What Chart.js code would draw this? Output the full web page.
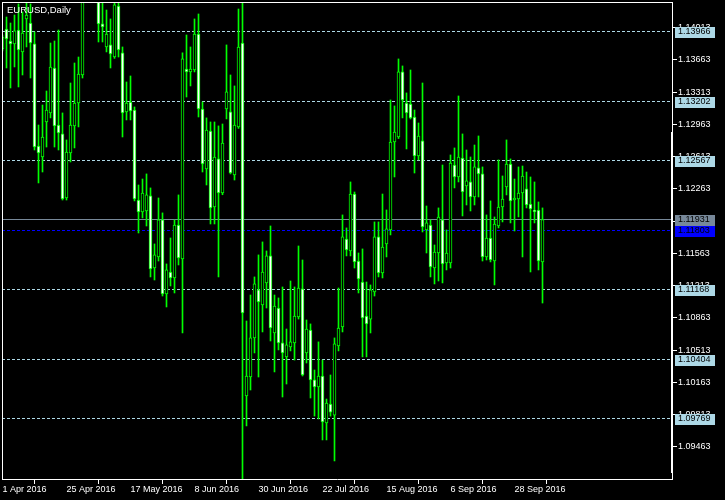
<!DOCTYPE html>
<html>
<head>
<meta charset="utf-8">
<script src="https://cdn.jsdelivr.net/npm/chart.js@4/dist/chart.umd.min.js"></script>
<style>
html,body{margin:0;padding:0;background:#000;overflow:hidden}
#wrap{width:725px;height:500px;position:relative}
</style>
</head>
<body>
<div id="wrap"><canvas id="c" width="725" height="500"></canvas></div>
<script>
const symbolTitle = 'EURUSD,Daily';

const dates = [
'1 Apr 2016','4 Apr 2016','5 Apr 2016','6 Apr 2016','7 Apr 2016','8 Apr 2016','11 Apr 2016','12 Apr 2016','13 Apr 2016','14 Apr 2016','15 Apr 2016','18 Apr 2016','19 Apr 2016','20 Apr 2016','21 Apr 2016','22 Apr 2016','25 Apr 2016','26 Apr 2016','27 Apr 2016','28 Apr 2016','29 Apr 2016',
'2 May 2016','3 May 2016','4 May 2016','5 May 2016','6 May 2016','9 May 2016','10 May 2016','11 May 2016','12 May 2016','13 May 2016','16 May 2016','17 May 2016','18 May 2016','19 May 2016','20 May 2016','23 May 2016','24 May 2016','25 May 2016','26 May 2016','27 May 2016','30 May 2016','31 May 2016',
'1 Jun 2016','2 Jun 2016','3 Jun 2016','6 Jun 2016','7 Jun 2016','8 Jun 2016','9 Jun 2016','10 Jun 2016','13 Jun 2016','14 Jun 2016','15 Jun 2016','16 Jun 2016','17 Jun 2016','20 Jun 2016','21 Jun 2016','22 Jun 2016','23 Jun 2016','24 Jun 2016','27 Jun 2016','28 Jun 2016','29 Jun 2016','30 Jun 2016',
'1 Jul 2016','4 Jul 2016','5 Jul 2016','6 Jul 2016','7 Jul 2016','8 Jul 2016','11 Jul 2016','12 Jul 2016','13 Jul 2016','14 Jul 2016','15 Jul 2016','18 Jul 2016','19 Jul 2016','20 Jul 2016','21 Jul 2016','22 Jul 2016','25 Jul 2016','26 Jul 2016','27 Jul 2016','28 Jul 2016','29 Jul 2016',
'1 Aug 2016','2 Aug 2016','3 Aug 2016','4 Aug 2016','5 Aug 2016','8 Aug 2016','9 Aug 2016','10 Aug 2016','11 Aug 2016','12 Aug 2016','15 Aug 2016','16 Aug 2016','17 Aug 2016','18 Aug 2016','19 Aug 2016','22 Aug 2016','23 Aug 2016','24 Aug 2016','25 Aug 2016','26 Aug 2016','29 Aug 2016','30 Aug 2016','31 Aug 2016',
'1 Sep 2016','2 Sep 2016','5 Sep 2016','6 Sep 2016','7 Sep 2016','8 Sep 2016','9 Sep 2016','12 Sep 2016','13 Sep 2016','14 Sep 2016','15 Sep 2016','16 Sep 2016','19 Sep 2016','20 Sep 2016','21 Sep 2016','22 Sep 2016','23 Sep 2016','26 Sep 2016','27 Sep 2016','28 Sep 2016','29 Sep 2016','30 Sep 2016',
'3 Oct 2016','4 Oct 2016','5 Oct 2016','6 Oct 2016','7 Oct 2016'
];

const open = [
1.13782,1.13999,1.13869,1.13837,1.13988,1.13750,1.14108,1.14064,1.13837,1.12729,1.12610,1.12990,1.13088,1.13576,1.12957,1.12860,1.12165,1.12654,1.12947,1.13196,
1.13500,1.14420,1.14450,1.14500,1.14400,1.14054,1.13804,1.13826,1.13695,1.14249,1.13739,1.13099,1.13207,1.13120,1.12143,1.12014,1.12024,1.12187,1.11405,1.11525,
1.11927,1.11123,1.11362,1.11297,1.11872,1.11503,1.13565,1.13533,1.13554,1.13945,1.13131,1.12480,1.12892,1.12067,1.12589,1.12219,1.13131,1.13099,1.12415,1.12936,
1.13847,1.10016,1.10222,1.10646,1.11167,1.11004,1.11243,1.11536,1.10700,1.10971,1.10592,1.10440,1.10548,1.10592,1.10873,1.11178,1.10483,1.10732,1.10190,1.10114,
1.10233,1.09723,1.09928,1.09809,1.10559,1.10765,1.11720,1.11590,1.12208,1.11481,1.11253,1.10884,1.10851,1.11145,1.11742,1.11351,1.11666,1.11818,1.12773,1.12827,
1.13533,1.13196,1.13185,1.13044,1.12621,1.12784,1.11818,1.11872,1.11405,1.11568,1.11927,1.11460,1.11460,1.12523,1.12393,1.12599,1.12295,1.12339,1.12176,1.12491,
1.12426,1.11525,1.11731,1.11481,1.11861,1.12067,1.12284,1.12534,1.12143,1.12154,1.12219,1.12263,1.12100,1.12035,1.12035,1.11471
];
const high = [
1.13934,1.14129,1.14064,1.14151,1.14271,1.14184,1.14314,1.14271,1.13967,1.12957,1.13174,1.13326,1.13847,1.13869,1.13988,1.13088,1.12795,1.13413,1.13630,1.13695,
1.14500,1.14600,1.14650,1.14600,1.14500,1.14330,1.14205,1.14108,1.14281,1.14281,1.13804,1.13424,1.13489,1.13153,1.12306,1.12371,1.12426,1.12274,1.11666,1.12165,
1.12003,1.11449,1.11731,1.11927,1.12198,1.13739,1.13934,1.13804,1.14108,1.14162,1.13207,1.13034,1.12990,1.12990,1.12947,1.12968,1.13826,1.13500,1.13381,1.14216,
1.14281,1.10830,1.11112,1.11308,1.11547,1.11688,1.11590,1.11861,1.11112,1.11080,1.11199,1.10743,1.11264,1.11199,1.11644,1.11492,1.10841,1.10798,1.10298,1.10603,
1.10406,1.09983,1.10244,1.10646,1.11188,1.11981,1.11840,1.12339,1.12230,1.11568,1.11612,1.11253,1.11221,1.11905,1.11905,1.12208,1.12035,1.13229,1.13164,1.13674,
1.13598,1.13305,1.13554,1.13120,1.12979,1.13413,1.12078,1.11927,1.11655,1.12057,1.12523,1.11818,1.12632,1.12708,1.13272,1.12860,1.12686,1.12610,1.12740,1.12838,
1.12502,1.11981,1.12133,1.11959,1.12578,1.12404,1.12795,1.12589,1.12371,1.12502,1.12512,1.12447,1.12393,1.12339,1.12122,1.12057
];
const low = [
1.13760,1.13576,1.13359,1.13587,1.13370,1.13500,1.13804,1.13467,1.12686,1.12328,1.12447,1.12718,1.13034,1.12718,1.12686,1.12143,1.12143,1.12556,1.12708,1.12936,
1.13467,1.14340,1.14350,1.14320,1.13858,1.13858,1.13750,1.13576,1.13680,1.13695,1.12827,1.13012,1.13012,1.12133,1.11785,1.11948,1.11861,1.11308,1.11275,1.11481,
1.11101,1.10982,1.11210,1.11134,1.11438,1.10700,1.13261,1.13381,1.13533,1.13044,1.12447,1.12306,1.11883,1.11883,1.11308,1.12200,1.13023,1.12426,1.12360,1.12920,
1.09100,1.09691,1.10081,1.10483,1.10222,1.10711,1.10971,1.10613,1.10277,1.10516,1.10005,1.10146,1.10505,1.10406,1.10851,1.10233,1.10374,1.09994,1.09798,1.09767,
1.09539,1.09539,1.09798,1.09311,1.10505,1.10711,1.11536,1.11536,1.11405,1.11134,1.10440,1.10440,1.10700,1.11101,1.11308,1.11297,1.11525,1.11764,1.12393,1.12810,
1.13034,1.12697,1.13023,1.12436,1.12578,1.11796,1.11568,1.11308,1.11232,1.11264,1.11243,1.11384,1.11405,1.12274,1.12339,1.11970,1.12089,1.12024,1.12089,1.12176,
1.11481,1.11492,1.11471,1.11221,1.11840,1.11905,1.12198,1.11894,1.11807,1.11959,1.11525,1.12057,1.11362,1.11894,1.11384,1.11025
];
const close = [
1.13912,1.13891,1.13837,1.13978,1.13771,1.13956,1.14151,1.13847,1.12718,1.12654,1.12827,1.13120,1.13587,1.12947,1.12871,1.12154,1.12664,1.12957,1.13196,1.13511,
1.14423,1.14450,1.14500,1.14400,1.14054,1.14021,1.13945,1.13728,1.14260,1.13771,1.13088,1.13196,1.13109,1.12154,1.12014,1.12219,1.12198,1.11395,1.11547,1.11927,
1.11123,1.11384,1.11297,1.11872,1.11514,1.13674,1.13533,1.13565,1.13945,1.13131,1.12534,1.12903,1.12057,1.12610,1.12219,1.12762,1.13316,1.12436,1.12957,1.13804,
1.10917,1.10233,1.10646,1.11232,1.11036,1.11362,1.11536,1.10754,1.10993,1.10592,1.10483,1.10570,1.10603,1.10884,1.11188,1.10244,1.10743,1.10190,1.10114,1.10233,
1.09734,1.09939,1.09841,1.10581,1.10754,1.11742,1.11601,1.12208,1.11471,1.11286,1.10863,1.10798,1.11167,1.11742,1.11351,1.11633,1.11829,1.12773,1.12881,1.13533,
1.13229,1.13088,1.13034,1.12621,1.12838,1.11850,1.11894,1.11416,1.11579,1.11959,1.11449,1.11568,1.12545,1.12393,1.12610,1.12230,1.12350,1.12176,1.12502,1.12426,
1.11525,1.11731,1.11492,1.11883,1.12067,1.12154,1.12534,1.12133,1.12165,1.12219,1.12404,1.12089,1.12046,1.12014,1.11481,1.11931
];

const priceTicks = [1.09463,1.09813,1.10163,1.10513,1.10863,1.11213,1.11563,1.11913,1.12263,1.12613,1.12963,1.13313,1.13663,1.14013];
const dateTickIndex = [0,16,32,48,64,80,96,112,128];
const levels = [1.13966,1.13202,1.12567,1.11168,1.10404,1.09769];
const bidLine = 1.11931;
const askLine = 1.11803;

const FONT = '9px "Liberation Sans", Arial, sans-serif';

const bodyLow = open.map((o,i)=>Math.min(o,close[i]));
const bodyHigh = open.map((o,i)=>Math.max(o,close[i]));

const mtPlugin = {
  id: 'mt',
  beforeDatasetsDraw(chart) {
    const {ctx, chartArea:a, scales:{y}} = chart;
    ctx.save();
    ctx.lineWidth = 1;
    const hline = (v, color, dash) => {
      const py = Math.round(y.getPixelForValue(v)) - 0.5;
      ctx.strokeStyle = color;
      ctx.setLineDash(dash);
      ctx.beginPath(); ctx.moveTo(a.left, py); ctx.lineTo(a.right, py); ctx.stroke();
    };
    levels.forEach(v => hline(v, '#add8e6', [3,2]));
    hline(bidLine, '#778899', []);
    hline(askLine, '#0000ff', [3,2]);
    ctx.restore();
  },
  afterDraw(chart) {
    const {ctx, chartArea:a, scales:{y}} = chart;
    ctx.save();
    ctx.fillStyle = '#ffffff';
    ctx.fillRect(a.left, a.top, a.right - a.left, 1);
    ctx.fillRect(a.left, a.top, 1, a.bottom - a.top);
    ctx.fillRect(a.right - 1, 132, 2, a.bottom - 6 - 132);
    ctx.font = FONT;
    ctx.textBaseline = 'middle';
    ctx.textAlign = 'left';
    const box = (v, bg, fg) => {
      const py = Math.round(y.getPixelForValue(v)) - 0.5;
      ctx.fillStyle = bg;
      ctx.fillRect(a.right + 3, Math.round(py) - 5, 40, 11);
      ctx.fillStyle = fg;
      ctx.fillText(v.toFixed(5), a.right + 6, py + 0.5);
    };
    levels.forEach(v => box(v, '#add8e6', '#000000'));
    box(bidLine, '#778899', '#000000');
    box(askLine, '#0000ff', '#000000');
    ctx.fillStyle = '#ffffff';
    ctx.textBaseline = 'alphabetic';
    ctx.font = '9.5px "Liberation Sans", Arial, sans-serif';
    ctx.fillText(symbolTitle, 7, 13);
    ctx.restore();
  }
};

new Chart(document.getElementById('c'), {
  type: 'bar',
  data: {
    datasets: [
      {
        label: 'wick',
        data: dates.map((d,i)=>({x:i, y:[low[i], high[i]]})),
        backgroundColor: '#00ff00',
        borderWidth: 0,
        barThickness: 1,
        grouped: false,
        order: 2,
        clip: 0
      },
      {
        label: 'body',
        data: dates.map((d,i)=>({x:i, y:[bodyLow[i], bodyHigh[i]]})),
        backgroundColor: close.map((c,i)=> c < open[i] ? '#ffffff' : '#000000'),
        borderColor: '#00ff00',
        borderWidth: 1,
        borderSkipped: false,
        barThickness: 3,
        minBarLength: 1,
        grouped: false,
        order: 1,
        clip: 0
      }
    ]
  },
  options: {
    responsive: false,
    devicePixelRatio: 1,
    animation: false,
    events: [],
    layout: { padding: { left: 2, top: 2, right: 0, bottom: 0 } },
    plugins: { legend: { display: false }, tooltip: { enabled: false }, title: { display: false } },
    scales: {
      x: {
        type: 'linear',
        offset: false,
        min: -0.125,
        max: 167.375,
        afterBuildTicks: s => { s.ticks = dateTickIndex.map(v => ({ value: v })); },
        afterFit: s => { s.height = 21; s.paddingLeft = 0; s.paddingRight = 0; },
        ticks: {
          autoSkip: false,
          maxRotation: 0,
          minRotation: 0,
          align: 'start',
          padding: 0,
          color: '#ffffff',
          font: { family: '"Liberation Sans", Arial, sans-serif', size: 9 },
          callback: v => dates[v] || ''
        },
        grid: { drawOnChartArea: false, drawTicks: true, tickLength: 5, color: '#ffffff' },
        border: { display: true, color: '#ffffff', width: 1 }
      },
      y: {
        type: 'linear',
        position: 'right',
        min: 1.09115,
        max: 1.14292,
        afterBuildTicks: s => { s.ticks = priceTicks.map(v => ({ value: v })); },
        afterFit: s => { s.width = 53; s.paddingTop = 0; s.paddingBottom = 0; },
        ticks: {
          padding: 1,
          color: '#ffffff',
          font: { family: '"Liberation Sans", Arial, sans-serif', size: 9 },
          callback: v => Number(v).toFixed(5)
        },
        grid: { drawOnChartArea: false, drawTicks: true, tickLength: 5, color: '#ffffff' },
        border: { display: true, color: '#ffffff', width: 1 }
      }
    }
  },
  plugins: [mtPlugin]
});
</script>
</body>
</html>
